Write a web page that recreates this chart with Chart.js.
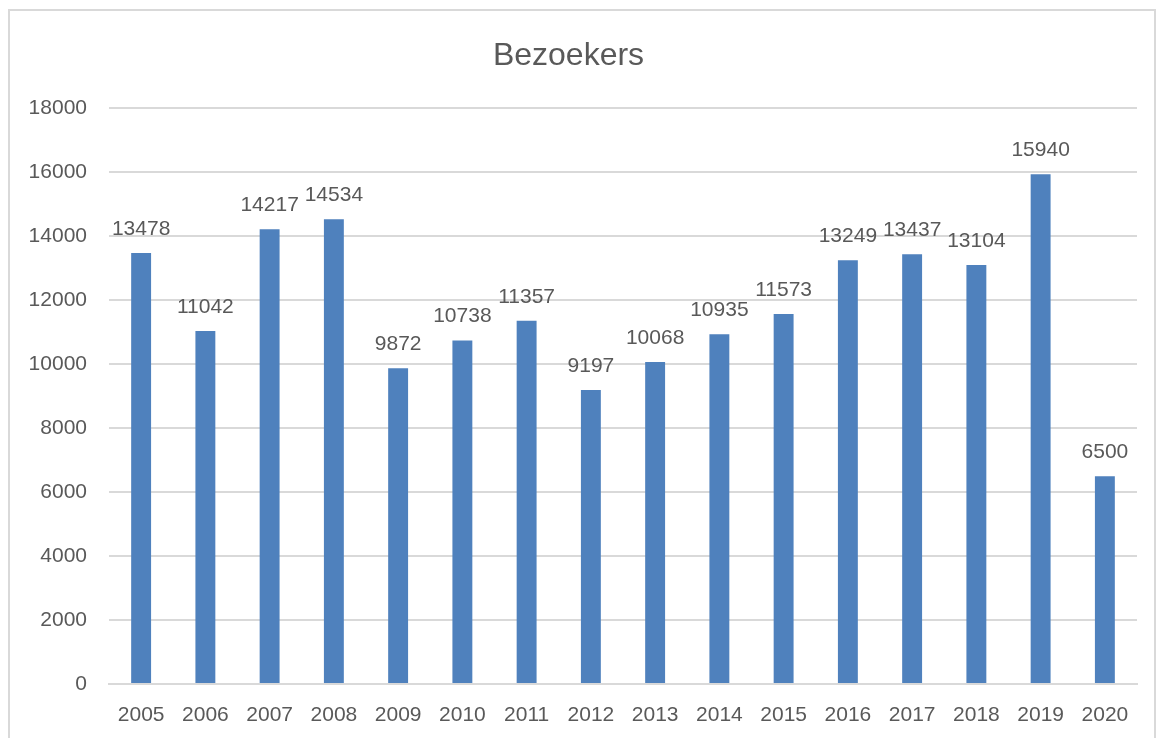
<!DOCTYPE html>
<html>
<head>
<meta charset="utf-8">
<script src="https://cdn.jsdelivr.net/npm/chart.js@4.4.0/dist/chart.umd.min.js"></script>
<style>
    body { margin: 0; background: #fff; overflow: hidden; }
    #frame { position: absolute; left: 8px; top: 9px; width: 1144px; height: 760px; border: 2px solid #d9d9d9; }
    #wrap { position: absolute; left: 0; top: 0; width: 1157px; height: 738px; }
</style>
</head>
<body>
<div id="frame"></div>
<div id="wrap"><canvas id="chart"></canvas></div>
<script>
const years = ['2005', '2006', '2007', '2008', '2009', '2010', '2011', '2012',
    '2013', '2014', '2015', '2016', '2017', '2018', '2019', '2020']
const visitors = [13478, 11042, 14217, 14534, 9872, 10738, 11357, 9197,
    10068, 10935, 11573, 13249, 13437, 13104, 15940, 6500]
const yTicks = [0, 2000, 4000, 6000, 8000, 10000, 12000, 14000, 16000, 18000]

const textColor = '#595959'
const fontFamily = '"Liberation Sans", Arial, sans-serif'

// labels above each bar, like excel "outside end"
const barLabels = {
    id: 'barLabels',
    afterDatasetsDraw(chart) {
        const ctx = chart.ctx
        const meta = chart.getDatasetMeta(0)
        ctx.save()
        ctx.font = '21px ' + fontFamily
        ctx.fillStyle = textColor
        ctx.textAlign = 'center'
        ctx.textBaseline = 'middle'
        meta.data.forEach((bar, i) => {
            ctx.fillText(String(chart.data.datasets[0].data[i]), bar.x, bar.y - 24)
        })
        ctx.restore()
    }
}

new Chart(document.getElementById('chart'), {
    type: 'bar',
    data: {
        labels: years,
        datasets: [{
            label: 'Bezoekers',
            data: visitors,
            backgroundColor: '#4f81bd',
            barPercentage: 0.31,
            categoryPercentage: 1
        }]
    },
    plugins: [barLabels],
    options: {
        responsive: true,
        maintainAspectRatio: false,
        animation: false,
        layout: { padding: { left: 0, right: 20, top: 10, bottom: 0 } },
        plugins: {
            legend: { display: false },
            tooltip: { enabled: false },
            title: {
                display: true,
                text: 'Bezoekers',
                color: textColor,
                font: { family: fontFamily, size: 32, weight: 'normal' },
                padding: { top: 27, bottom: 33 }
            }
        },
        scales: {
            x: {
                afterFit(scale) { scale.height = 54 },
                grid: { display: false, drawTicks: false },
                border: { display: true, color: '#d9d9d9', width: 2 },
                ticks: {
                    color: textColor,
                    font: { family: fontFamily, size: 21 },
                    padding: 19,
                    maxRotation: 0
                }
            },
            y: {
                min: 0,
                max: 18000,
                afterFit(scale) { scale.width = 109 },
                afterBuildTicks(scale) { scale.ticks = yTicks.map(v => ({ value: v })) },
                grid: { color: '#d9d9d9', lineWidth: 2, drawTicks: false },
                border: { display: false },
                ticks: {
                    color: textColor,
                    font: { family: fontFamily, size: 21 },
                    padding: 22,
                    callback: v => String(v)
                }
            }
        }
    }
})
</script>
</body>
</html>
